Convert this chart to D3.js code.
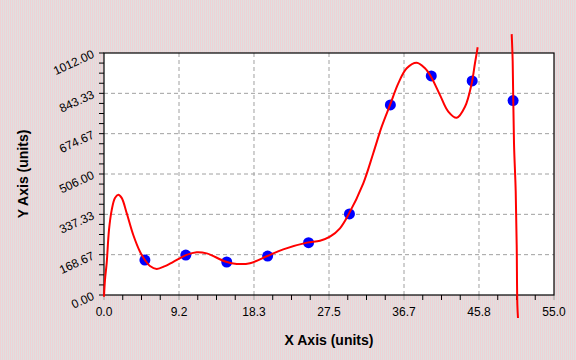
<!DOCTYPE html>
<html>
<head>
<meta charset="utf-8">
<script src="https://cdn.jsdelivr.net/npm/d3@7"></script>
<style>
  body { margin: 0; }
  svg { display: block; font-family: Arial, "Liberation Sans", sans-serif; }
</style>
</head>
<body>
<svg id="chart" width="576" height="360"></svg>
<script>
// measured points
const pointX = [5, 10, 15, 20, 25, 30, 35, 40, 45, 50];
const pointY = [146, 167, 138, 163, 219, 339, 795, 916, 895, 813];

// fitted curve (null = break in the line)
const curveX = [0, 0.12, 0.33, 0.61, 0.94, 1.34, 1.75, 2.16, 2.77, 3.58, 4.4, 5.01, 5.62, 6.44,
  7.46, 8.47, 10.02, 11.33, 12.55, 14.91, 16.22, 17.84, 19.96, 21.91, 24.81, 26.4, 27.62,
  28.84, 29.86, 31.69, 32.91, 33.94, 34.96, 35.97, 37.0, 38.22, 39.23, 39.97, 41.07, 42.08,
  43.11, 44.12, 44.94, 45.34, 45.67, null,
  49.83, 49.95, 50.11, 50.32, 50.44, 50.52, 50.6];
const curveY = [-7, 63, 134, 272, 355, 406, 419, 406, 343, 251, 181, 146, 121, 109,
  121, 139, 167, 179, 174, 139, 130, 133, 163, 191, 219, 227, 244,
  279, 335, 467, 593, 704, 795, 885, 948, 971, 948, 913, 836, 767,
  741, 787, 885, 969, 1036, null,
  1091, 977, 636, 434, 210, -41, -96];

const xTicks = [0, 9.1667, 18.3333, 27.5, 36.6667, 45.8333, 55];
const yTicks = [0, 168.67, 337.33, 506, 674.67, 843.33, 1012];

const svg = d3.select("#chart");
const W = 576, H = 360;
const plotL = 104, plotR = 554, plotT = 53, plotB = 295;

const x = d3.scaleLinear().domain([0, 55]).range([plotL, plotR]);
const y = d3.scaleLinear().domain([0, 1012]).range([plotB, plotT]);

// striped background
const pat = svg.append("defs").append("pattern")
  .attr("id", "stripes").attr("width", 2).attr("height", 2)
  .attr("patternUnits", "userSpaceOnUse");
pat.append("rect").attr("width", 1).attr("height", 2).attr("fill", "#eed2d5");
pat.append("rect").attr("x", 1).attr("width", 1).attr("height", 2).attr("fill", "#e0e0e0");
svg.append("rect").attr("width", W).attr("height", H).attr("fill", "url(#stripes)");

svg.append("rect")
  .attr("x", plotL).attr("y", plotT)
  .attr("width", plotR - plotL).attr("height", plotB - plotT)
  .attr("fill", "white");

// grid
const grid = svg.append("g").attr("stroke", "#a0a0a0").attr("stroke-dasharray", "4,3");
grid.selectAll(".gx").data(xTicks.slice(1, -1)).join("line")
  .attr("x1", d => x(d)).attr("x2", d => x(d))
  .attr("y1", plotT).attr("y2", plotB);
grid.selectAll(".gy").data(yTicks.slice(1, -1)).join("line")
  .attr("x1", plotL).attr("x2", plotR)
  .attr("y1", d => y(d)).attr("y2", d => y(d));

// minor ticks
const minorX = [];
for (let i = 0; i < xTicks.length - 1; i++)
  for (let k = 1; k < 4; k++) minorX.push(xTicks[i] + (xTicks[i + 1] - xTicks[i]) * k / 4);
const minorY = [];
for (let i = 0; i < yTicks.length - 1; i++)
  for (let k = 1; k < 4; k++) minorY.push(yTicks[i] + (yTicks[i + 1] - yTicks[i]) * k / 4);

const ticks = svg.append("g").attr("stroke", "black");
ticks.selectAll(".mx").data(minorX).join("line")
  .attr("x1", d => x(d)).attr("x2", d => x(d))
  .attr("y1", plotB).attr("y2", plotB + 5);
ticks.selectAll(".Mx").data(xTicks).join("line")
  .attr("stroke", "#a0a0a0")
  .attr("x1", d => x(d)).attr("x2", d => x(d))
  .attr("y1", plotB).attr("y2", plotB + 5);
ticks.selectAll(".my").data(minorY.concat(yTicks)).join("line")
  .attr("x1", plotL - 5).attr("x2", plotL)
  .attr("y1", d => y(d)).attr("y2", d => y(d));

// frame
svg.append("rect")
  .attr("x", plotL).attr("y", plotT)
  .attr("width", plotR - plotL).attr("height", plotB - plotT)
  .attr("fill", "none").attr("stroke", "black").attr("stroke-width", 1.2);

// tick labels
svg.append("g").selectAll("text").data(xTicks).join("text")
  .attr("x", d => x(d)).attr("y", plotB + 21)
  .attr("text-anchor", "middle")
  .attr("font-size", 12)
  .text(d => d.toFixed(1));

svg.append("g").selectAll("text").data(yTicks).join("text")
  .attr("transform", d => `translate(${plotL - 9},${y(d) + 4}) rotate(-25)`)
  .attr("text-anchor", "end")
  .attr("font-size", 12)
  .text(d => d.toFixed(2));

// axis titles
svg.append("text")
  .attr("x", (plotL + plotR) / 2).attr("y", 345)
  .attr("text-anchor", "middle")
  .attr("font-size", 14).attr("font-weight", "bold")
  .text("X Axis (units)");
svg.append("text")
  .attr("transform", `translate(28,${(plotT + plotB) / 2}) rotate(-90)`)
  .attr("text-anchor", "middle")
  .attr("font-size", 14).attr("font-weight", "bold")
  .text("Y Axis (units)");

// points
svg.append("g").selectAll("circle").data(pointX).join("circle")
  .attr("cx", d => x(d)).attr("cy", (d, i) => y(pointY[i]))
  .attr("r", 5.5).attr("fill", "#0000ff");

// fitted curve
const line = d3.line()
  .defined((d, i) => curveX[i] !== null)
  .x((d, i) => x(curveX[i]))
  .y((d, i) => y(curveY[i]))
  .curve(d3.curveCatmullRom.alpha(0.5));
svg.append("path")
  .attr("d", line(curveX))
  .attr("fill", "none").attr("stroke", "#ff0000").attr("stroke-width", 2);
</script>
</body>
</html>
